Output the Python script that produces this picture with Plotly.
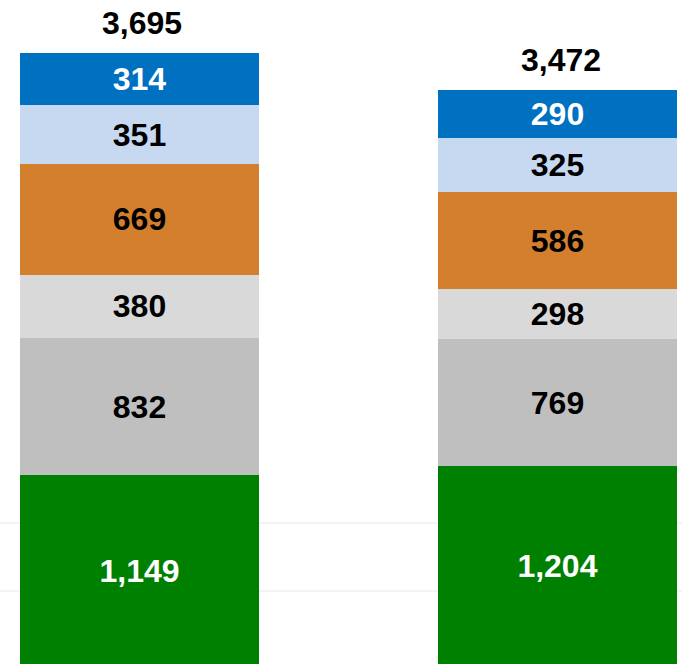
import plotly.graph_objects as go

categories = ["Bar 1", "Bar 2"]
series_names = ["S1", "S2", "S3", "S4", "S5", "S6"]
s1 = [1149, 1204]
s2 = [832, 769]
s3 = [380, 298]
s4 = [669, 586]
s5 = [351, 325]
s6 = [314, 290]
totals = [3695, 3472]
grid_vals = [452, 862]

colors = ["#008000", "#BFBFBF", "#D9D9D9", "#D47F2E", "#C6D9F1", "#0070C0"]
text_colors = ["white", "black", "black", "black", "black", "white"]
series = [s1, s2, s3, s4, s5, s6]

FONT = "Liberation Sans, Arial, sans-serif"
fig = go.Figure()
for name, vals, c, tc in zip(series_names, series, colors, text_colors):
    fig.add_trace(go.Bar(
        x=categories, y=vals, name=name, marker=dict(color=c, line=dict(width=0)),
        width=0.572, texttemplate="%{y:,}", textposition="inside",
        insidetextanchor="middle", textangle=0, constraintext="none",
        textfont=dict(family=FONT, size=32, color=tc, weight="bold"),
        hoverinfo="skip",
    ))

for cat, t in zip(categories, totals):
    fig.add_annotation(x=cat, y=t, text=f"{t:,}", showarrow=False,
                       yanchor="bottom", yshift=10, xshift=3,
                       font=dict(family=FONT, size=32, color="black", weight="bold"))

fig.update_layout(
    barmode="stack", width=682, height=664,
    margin=dict(l=0, r=0, t=0, b=0),
    paper_bgcolor="white", plot_bgcolor="white",
    showlegend=False,
    xaxis=dict(range=[-0.3337, 1.2978], showticklabels=False, showgrid=False,
               zeroline=False, showline=False, ticks=""),
    yaxis=dict(range=[12, 4017], tickvals=grid_vals, showticklabels=False,
               showgrid=True, gridcolor="#F4F4F4", gridwidth=2,
               zeroline=False, showline=False, ticks=""),
    font=dict(family=FONT),
)
fig.write_html("out.html", config={"displayModeBar": False},
               post_script="document.body.style.margin='0';document.body.style.overflow='hidden';")
